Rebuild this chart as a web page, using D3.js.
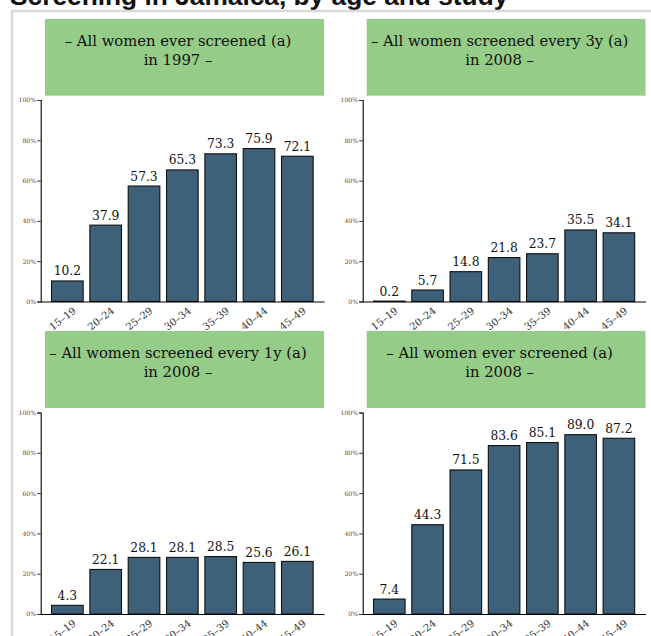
<!DOCTYPE html>
<html>
<head>
<meta charset="utf-8">
<script src="https://cdn.jsdelivr.net/npm/d3@7/dist/d3.min.js"></script>
<style>
  html, body { margin: 0; padding: 0; background: #fff; overflow: hidden; }
  svg { display: block; }
</style>
</head>
<body>
<svg id="chart" width="651" height="636"></svg>
<script>
// ---- data ----
const chartTitle = "Screening in Jamaica, by age and study";
const ageGroups = ["15–19", "20–24", "25–29", "30–34", "35–39", "40–44", "45–49"];
const yTicks = [0, 20, 40, 60, 80, 100];
const headerLine1 = [
  "– All women ever screened (a)",
  "– All women screened every 3y (a)",
  "– All women screened every 1y (a)",
  "– All women ever screened (a)"
];
const headerLine2 = ["in 1997 –", "in 2008 –", "in 2008 –", "in 2008 –"];
const everScreened1997 = [10.2, 37.9, 57.3, 65.3, 73.3, 75.9, 72.1];
const every3y2008 = [0.2, 5.7, 14.8, 21.8, 23.7, 35.5, 34.1];
const every1y2008 = [4.3, 22.1, 28.1, 28.1, 28.5, 25.6, 26.1];
const everScreened2008 = [7.4, 44.3, 71.5, 83.6, 85.1, 89.0, 87.2];
const panelValues = [everScreened1997, every3y2008, every1y2008, everScreened2008];

// ---- layout ----
const svg = d3.select("#chart");
const serif = "'DejaVu Serif', serif";

svg.append("text")
  .attr("x", 10).attr("y", 4.5)
  .attr("font-family", "'Liberation Sans', Arial, sans-serif")
  .attr("font-weight", "bold").attr("font-size", 26.3)
  .attr("fill", "#111")
  .text(chartTitle);

svg.append("rect")
  .attr("x", 12).attr("y", 11).attr("width", 700).attr("height", 700)
  .attr("fill", "#fff").attr("stroke", "#d9d9d9").attr("stroke-width", 2.5);

const cols = [{ax: 40.7, end: 324, hx: 45}, {ax: 362.7, end: 645.5, hx: 366.7}];
const rows = [{hy: 19, hb: 95.7, top: 100, zero: 301.5}, {hy: 331, hb: 408, top: 412.5, zero: 614}];

panelValues.forEach((vals, i) => {
  const c = cols[i % 2], r = rows[Math.floor(i / 2)];
  const g = svg.append("g");

  // header strip
  g.append("rect")
    .attr("x", c.hx).attr("y", r.hy)
    .attr("width", c.end - c.hx).attr("height", r.hb - r.hy)
    .attr("fill", "#95cc87");
  const tx = (c.hx + c.end) / 2 - 6.5;
  g.append("text").attr("x", tx).attr("y", r.hy + 27)
    .attr("text-anchor", "middle").attr("font-family", serif)
    .attr("font-size", 14.8).attr("fill", "#111").text(headerLine1[i]);
  g.append("text").attr("x", tx).attr("y", r.hy + 45.5)
    .attr("text-anchor", "middle").attr("font-family", serif)
    .attr("font-size", 14.8).attr("fill", "#111").text(headerLine2[i]);

  const x = d3.scaleBand().domain(ageGroups).range([c.ax, c.end])
    .paddingInner(0.175).paddingOuter(0.283);
  const y = d3.scaleLinear().domain([0, 100]).range([r.zero, r.top]);

  // y axis
  const yAxis = d3.axisLeft(y).tickValues(yTicks).tickSize(3.5)
    .tickFormat(d => d + "%");
  const ya = g.append("g").attr("transform", `translate(${c.ax},0)`).call(yAxis);
  ya.select(".domain").attr("stroke", "#000").attr("stroke-width", 1.1);
  ya.selectAll(".tick line").attr("stroke", "#333");
  ya.selectAll(".tick text").attr("font-family", serif).attr("font-size", 6.2)
    .attr("fill", "#4d4d4d").attr("x", -4.5);

  // bars
  g.selectAll(".bar").data(vals).enter().append("rect")
    .attr("x", (d, j) => x(ageGroups[j]))
    .attr("y", d => y(d))
    .attr("width", x.bandwidth())
    .attr("height", d => y(0) - y(d))
    .attr("fill", "#3f6079").attr("stroke", "#111").attr("stroke-width", 1.1);

  // value labels
  g.selectAll(".val").data(vals).enter().append("text")
    .attr("x", (d, j) => x(ageGroups[j]) + x.bandwidth() / 2)
    .attr("y", d => y(d) - 5.5)
    .attr("text-anchor", "middle").attr("font-family", serif)
    .attr("font-size", 12.3).attr("fill", "#111")
    .text(d => d.toFixed(1));

  // x axis
  const xAxis = d3.axisBottom(x).tickSize(0).tickSizeOuter(0);
  const xa = g.append("g").attr("transform", `translate(0,${r.zero})`).call(xAxis);
  xa.select(".domain").attr("stroke", "#000").attr("stroke-width", 1.1);
  xa.selectAll(".tick text")
    .attr("font-family", serif).attr("font-size", 10).attr("fill", "#333")
    .attr("text-anchor", "end")
    .attr("x", 0).attr("y", 0).attr("dy", "0.7em")
    .attr("transform", "translate(5,5) rotate(-38)");
});
</script>
</body>
</html>
